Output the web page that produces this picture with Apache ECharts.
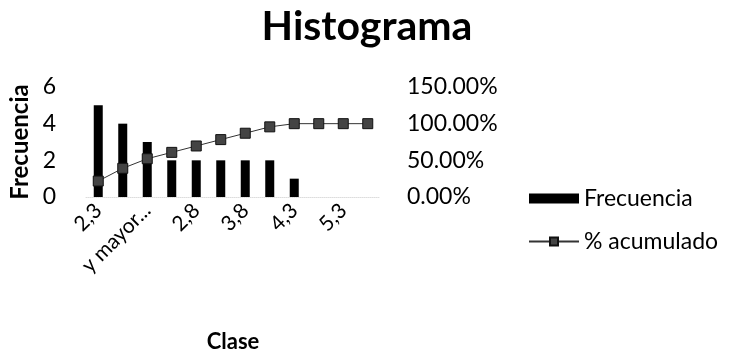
<!DOCTYPE html>
<html><head><meta charset="utf-8">
<script src="https://cdn.jsdelivr.net/npm/echarts@6/dist/echarts.min.js"></script>
<style>html,body{margin:0;padding:0;background:#fff}#c{width:745px;height:355px}</style>
</head><body><div id="c"></div>
<script>
var categories = ["2,3", "1,8", "y mayor...", "3,3", "2,8", "4,8", "3,8", "5,8", "4,3", "6,3", "5,3", "6,8"];
var frecuencia = [5, 4, 3, 2, 2, 2, 2, 2, 1, 0, 0, 0];
var acumulado = [21.74, 39.13, 52.17, 60.87, 69.57, 78.26, 86.96, 95.65, 100, 100, 100, 100];
var leftTicks = [0, 2, 4, 6];
var rightTicks = [0, 50, 100, 150];

var FONT = "Lato";
var chart = echarts.init(document.getElementById('c'));
chart.setOption({
  animation: false,
  textStyle: {fontFamily: FONT, color: '#000'},
  title: {text: 'Histograma', left: 362, top: 1, textAlign: 'center',
    textStyle: {fontFamily: FONT, fontSize: 41, fontWeight: 'bold', color: '#000'}},
  grid: {left: 86, right: 365, top: 87, bottom: 158, containLabel: false, outerBoundsMode: 'none'},
  legend: {
    orient: 'vertical', left: 523, top: 182, itemGap: 20, itemWidth: 50, itemHeight: 10,
    textStyle: {fontFamily: FONT, fontSize: 23, color: '#000'},
    data: [{name: 'Frecuencia', icon: 'rect'}, {name: '% acumulado'}]
  },
  xAxis: {
    type: 'category', data: categories,
    name: 'Clase', nameLocation: 'middle', nameGap: 134,
    nameTextStyle: {fontFamily: FONT, fontSize: 22, fontWeight: 'bold', color: '#000'},
    axisLine: {show: true, lineStyle: {color: '#ddd', type: 'dotted'}},
    axisTick: {show: false},
    axisLabel: {interval: 1, rotate: 45, fontSize: 21, color: '#000', margin: 10, fontFamily: FONT}
  },
  yAxis: [{
    type: 'value', min: 0, max: 6, interval: 2,
    name: 'Frecuencia', nameLocation: 'middle', nameGap: 54, nameRotate: 90,
    nameTextStyle: {fontFamily: FONT, fontSize: 24, fontWeight: 'bold', color: '#000'},
    axisLine: {show: false}, axisTick: {show: false}, splitLine: {show: false},
    axisLabel: {fontSize: 23, color: '#000', margin: 30, fontFamily: FONT}
  }, {
    type: 'value', min: 0, max: 150, interval: 50, position: 'right',
    axisLine: {show: false}, axisTick: {show: false}, splitLine: {show: false},
    axisLabel: {fontSize: 23, color: '#000', margin: 27, fontFamily: FONT, align: 'left',
      formatter: function (v) { return v.toFixed(2) + '%'; }}
  }],
  series: [{
    name: 'Frecuencia', type: 'bar', data: frecuencia, barWidth: 9, yAxisIndex: 0,
    itemStyle: {color: '#000'}
  }, {
    name: '% acumulado', type: 'line', data: acumulado, yAxisIndex: 1,
    symbol: 'rect', symbolSize: 10, showAllSymbol: true,
    lineStyle: {color: '#333', width: 1},
    itemStyle: {color: '#444', borderColor: '#111', borderWidth: 1}
  }]
});
</script></body></html>
